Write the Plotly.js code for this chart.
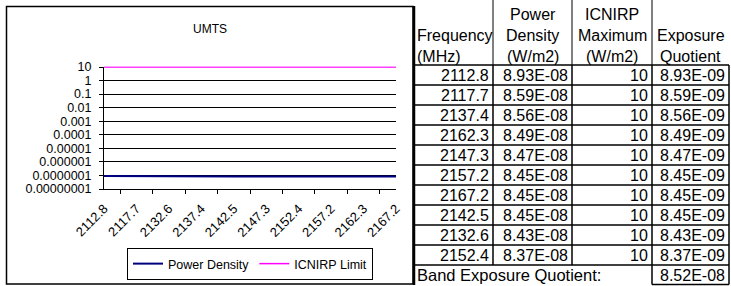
<!DOCTYPE html>
<html>
<head>
<meta charset="utf-8">
<script src="https://cdn.plot.ly/plotly-3.0.1.min.js"></script>
<style>
html,body{margin:0;padding:0;background:#fff;}
#chart{width:731px;height:286px;}
</style>
</head>
<body>
<div id="chart"></div>
<script>
// ---- data (table order, as in the reference) ----
const frequencies = [2112.8, 2117.7, 2137.4, 2162.3, 2147.3, 2157.2, 2167.2, 2142.5, 2132.6, 2152.4];
const powerDensity = [8.93e-8, 8.59e-8, 8.56e-8, 8.49e-8, 8.47e-8, 8.45e-8, 8.45e-8, 8.45e-8, 8.43e-8, 8.37e-8];
const icnirpMaximum = [10, 10, 10, 10, 10, 10, 10, 10, 10, 10];
const exposureQuotient = [8.93e-9, 8.59e-9, 8.56e-9, 8.49e-9, 8.47e-9, 8.45e-9, 8.45e-9, 8.45e-9, 8.43e-9, 8.37e-9];
const bandExposureQuotient = 8.52e-8;
const yTickValues = [10, 1, 0.1, 0.01, 0.001, 0.0001, 0.00001, 0.000001, 0.0000001, 0.00000001];
const yTickLabels = ['10', '1', '0.1', '0.01', '0.001', '0.0001', '0.00001', '0.000001', '0.0000001', '0.00000001'];
const headerLines = [
  ['', 'Frequency', '(MHz)'],
  ['Power', 'Density', '(W/m2)'],
  ['ICNIRP', 'Maximum', '(W/m2)'],
  ['', 'Exposure', 'Quotient']
];
const chartTitle = 'UMTS';
const seriesNames = ['Power Density', 'ICNIRP Limit'];
const bandLabel = 'Band Exposure Quotient:';

// ---- chart series sorted by frequency ----
const order = frequencies.map((f, i) => i).sort((a, b) => frequencies[a] - frequencies[b]);
const cats = order.map(i => frequencies[i].toFixed(1));
const pdSorted = order.map(i => powerDensity[i]);
const limSorted = order.map(i => icnirpMaximum[i]);

function fmtE(v) {
  const s = v.toExponential(2);
  const [m, e] = s.split('e');
  const sign = e[0] === '-' ? '-' : '+';
  const d = e.replace(/^[+-]/, '').padStart(2, '0');
  return m + 'E' + sign + d;
}

const W = 731, H = 286;
const X = p => p / W;
const Y = p => 1 - p / H;

const FONT = 'Liberation Sans, Arial, sans-serif';
const shapes = [];
const annotations = [];

function line(x0, y0, x1, y1, w) {
  shapes.push({type: 'line', xref: 'paper', yref: 'paper', x0: X(x0), y0: Y(y0), x1: X(x1), y1: Y(y1),
    line: {color: '#000', width: w || 1}});
}

// chart frame
shapes.push({type: 'rect', xref: 'paper', yref: 'paper', x0: X(6.5), y0: Y(6.5), x1: X(413), y1: Y(284),
  line: {color: '#000', width: 1.5}});

// ---- table ----
const colX = [414, 493, 572, 652, 729];
const headerBottom = 65, rowH = 20;
const tFont = {family: FONT, size: 16, color: '#000'};

// left thick border
line(414, 6, 414, 285, 2.5);
// header column separators
for (let c = 1; c < 4; c++) line(colX[c], 0, colX[c], headerBottom, 1);
// header text
const headerY = [14, 36, 56];
headerLines.forEach((col, c) => {
  col.forEach((t, r) => {
    if (!t) return;
    const left = c === 0;
    annotations.push({xref: 'paper', yref: 'paper',
      x: left ? X(colX[c] + 1) : X((colX[c] + colX[c + 1]) / 2), y: Y(headerY[r]),
      xanchor: left ? 'left' : 'center', yanchor: 'middle', showarrow: false, text: t, font: tFont});
  });
});
// data rows
const nRows = frequencies.length;
for (let r = 0; r <= nRows; r++) line(colX[0], headerBottom + r * rowH, colX[4], headerBottom + r * rowH, 1.5);
for (let c = 1; c < 5; c++) line(colX[c], headerBottom, colX[c], headerBottom + nRows * rowH, 1.5);
const cellVals = [
  frequencies.map(v => v.toFixed(1)),
  powerDensity.map(fmtE),
  icnirpMaximum.map(v => String(v)),
  exposureQuotient.map(fmtE)
];
for (let r = 0; r < nRows; r++) {
  const yc = headerBottom + r * rowH + rowH / 2 + 0.5;
  for (let c = 0; c < 4; c++) {
    annotations.push({xref: 'paper', yref: 'paper', x: X(colX[c + 1] - 2), y: Y(yc),
      xanchor: 'right', yanchor: 'middle', showarrow: false, text: cellVals[c][r], font: tFont});
  }
}
// band row
const bandTop = headerBottom + nRows * rowH, bandBot = 284.5;
line(colX[3], bandTop, colX[3], bandBot, 1.5);
line(colX[4], bandTop, colX[4], bandBot, 1.5);
line(colX[3], bandBot, colX[4], bandBot, 1.5);
annotations.push({xref: 'paper', yref: 'paper', x: X(colX[0] + 1), y: Y((bandTop + bandBot) / 2 + 0.5),
  xanchor: 'left', yanchor: 'middle', showarrow: false, text: bandLabel,
  font: {family: FONT, size: 16.5, color: '#000'}});
annotations.push({xref: 'paper', yref: 'paper', x: X(colX[4] - 2), y: Y((bandTop + bandBot) / 2 + 0.5),
  xanchor: 'right', yanchor: 'middle', showarrow: false, text: fmtE(bandExposureQuotient), font: tFont});

// title
annotations.push({xref: 'paper', yref: 'paper', x: X(210), y: Y(29), xanchor: 'center', yanchor: 'middle',
  showarrow: false, text: chartTitle, font: {family: FONT, size: 12, color: '#000'}});

// ---- plot area geometry ----
const yTopPx = 66.6, yBotPx = 189, decades = 9; // 1e-8 .. 1e1
const pxPerDec = (yBotPx - 67) / decades;
const yTopVal = 1 + (67 - yTopPx) / pxPerDec;

const traces = [
  {x: cats, y: pdSorted, type: 'scatter', mode: 'lines', name: seriesNames[0],
   line: {color: '#000080', width: 2}},
  {x: cats, y: limSorted, type: 'scatter', mode: 'lines', name: seriesNames[1],
   line: {color: '#FF00FF', width: 1.5}}
];

const layout = {
  width: W, height: H,
  margin: {l: 0, r: 0, t: 0, b: 0},
  paper_bgcolor: '#fff', plot_bgcolor: 'rgba(0,0,0,0)',
  font: {family: FONT, size: 12, color: '#000'},
  showlegend: true,
  legend: {orientation: 'h', x: X(250), y: Y(264), xanchor: 'center', yanchor: 'middle',
    bordercolor: '#000', borderwidth: 1, bgcolor: '#fff', font: {family: FONT, size: 12.5, color: '#000'},
    tracegroupgap: 0, itemwidth: 30},
  xaxis: {domain: [X(104), X(396)], type: 'category', tickson: 'boundaries', ticks: 'outside', ticklen: 4,
    tickcolor: '#000', showline: true, linecolor: '#000', linewidth: 1, showgrid: false, zeroline: false,
    tickangle: -45, ticklabelstandoff: 6, tickfont: {family: FONT, size: 13, color: '#000'}, fixedrange: true},
  yaxis: {domain: [Y(yBotPx), Y(yTopPx)], type: 'log', range: [-8, yTopVal], tickmode: 'array',
    tickvals: yTickValues, ticktext: yTickLabels, ticks: 'outside', ticklen: 4, tickcolor: '#000',
    ticklabelstandoff: 5,
    showline: true, linecolor: '#000', linewidth: 1, showgrid: true, gridcolor: '#000', gridwidth: 1,
    zeroline: false, tickfont: {family: FONT, size: 12.5, color: '#000'}, fixedrange: true},
  shapes: shapes,
  annotations: annotations
};

Plotly.newPlot('chart', traces, layout, {displayModeBar: false, staticPlot: true});
</script>
</body>
</html>
